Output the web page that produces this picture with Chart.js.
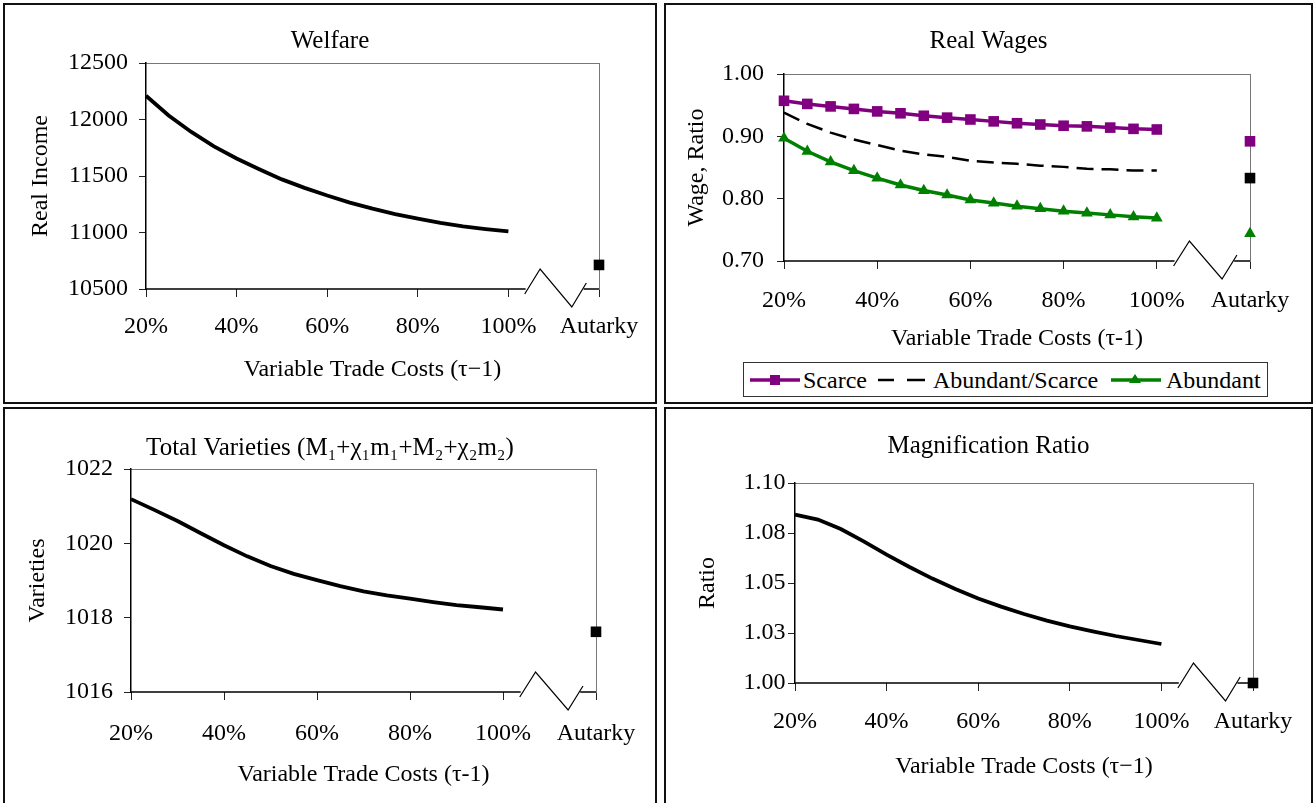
<!DOCTYPE html>
<html>
<head>
<meta charset="utf-8">
<script src="https://cdn.jsdelivr.net/npm/chart.js@4.4.1/dist/chart.umd.min.js"></script>
<style>
body{margin:0;background:#fff;width:1315px;height:803px;overflow:hidden;position:relative;font-family:"Liberation Serif","Times New Roman",serif;}
.panel{position:absolute;border:2px solid #111;box-sizing:border-box;overflow:hidden;}
.panel canvas{position:absolute;left:0;top:0;}
#legend{position:absolute;left:743px;top:362px;width:525px;height:35px;border:1px solid #333;box-sizing:border-box;background:#fff;font-size:24px;color:#000;}
#legend span,#legend svg{position:absolute;}
#legend span{top:0;line-height:34px;white-space:nowrap;}
#legend svg{top:7px;}
</style>
</head>
<body>
<div class="panel" style="left:3px;top:3px;width:654px;height:401px"><canvas id="cWelfare" width="650" height="397"></canvas></div>
<div class="panel" style="left:664px;top:3px;width:649px;height:401px"><canvas id="cWages" width="645" height="397"></canvas></div>
<div class="panel" style="left:3px;top:407px;width:654px;height:400px"><canvas id="cVarieties" width="650" height="396"></canvas></div>
<div class="panel" style="left:664px;top:407px;width:649px;height:400px"><canvas id="cMagnif" width="645" height="396"></canvas></div>
<div id="legend">
  <svg style="left:6px" width="50" height="20"><line x1="0" y1="10" x2="50" y2="10" stroke="#800080" stroke-width="3.5"/><rect x="20" y="5" width="10" height="10" fill="#800080"/></svg>
  <span style="left:59px">Scarce</span>
  <svg style="left:134px" width="47" height="20"><line x1="0" y1="10" x2="16" y2="10" stroke="#000" stroke-width="2.5"/><line x1="29" y1="10" x2="47" y2="10" stroke="#000" stroke-width="2.5"/></svg>
  <span style="left:189px">Abundant/Scarce</span>
  <svg style="left:367px" width="50" height="20"><line x1="0" y1="10" x2="50" y2="10" stroke="#008000" stroke-width="3.5"/><polygon points="24,4 30,13 18,13" fill="#008000"/></svg>
  <span style="left:422px">Abundant</span>
</div>
<script>
// trade cost levels (tau-1, in %) and the autarky slot after the axis break
const costs = [20, 25, 30, 35, 40, 45, 50, 55, 60, 65, 70, 75, 80, 85, 90, 95, 100];
const autarkyX = 120;
const xTickValues = [20, 40, 60, 80, 100, 120];
const xTickLabels = ['20%', '40%', '60%', '80%', '100%', 'Autarky'];

const welfare = [12210, 12035, 11890, 11762, 11655, 11560, 11470, 11395, 11327, 11265, 11211, 11163, 11122, 11085, 11054, 11030, 11010];
const welfareAutarky = 10713;
const welfareTicks = [10500, 11000, 11500, 12000, 12500];

const scarce = [0.957, 0.952, 0.948, 0.944, 0.940, 0.937, 0.933, 0.930, 0.927, 0.924, 0.921, 0.919, 0.917, 0.916, 0.914, 0.912, 0.911];
const scarceAutarky = 0.892;
const wageRatio = [0.938, 0.920, 0.906, 0.895, 0.886, 0.877, 0.871, 0.867, 0.861, 0.858, 0.856, 0.853, 0.851, 0.848, 0.847, 0.845, 0.845];
const wageRatioAutarky = 0.833;
const abundant = [0.897, 0.876, 0.859, 0.845, 0.833, 0.822, 0.813, 0.806, 0.798, 0.793, 0.788, 0.784, 0.780, 0.777, 0.774, 0.771, 0.769];
const abundantAutarky = 0.744;
const wageTicks = [0.70, 0.80, 0.90, 1.00];

const varieties = [1021.19, 1020.90, 1020.60, 1020.27, 1019.95, 1019.65, 1019.39, 1019.18, 1019.01, 1018.85, 1018.71, 1018.60, 1018.51, 1018.42, 1018.34, 1018.28, 1018.22];
const varietiesAutarky = 1017.62;
const varietyTicks = [1016, 1018, 1020, 1022];

const magnification = [1.0842, 1.0817, 1.0770, 1.0708, 1.0642, 1.0580, 1.0522, 1.0470, 1.0422, 1.0382, 1.0345, 1.0312, 1.0283, 1.0258, 1.0235, 1.0215, 1.0195];
const magnificationAutarky = 1.00;
const magTicks = [1.000, 1.025, 1.050, 1.075, 1.100];
const magTickLabels = ['1.00', '1.03', '1.05', '1.08', '1.10'];

Chart.defaults.font.family = '"Liberation Serif", "Times New Roman", serif';
Chart.defaults.color = '#000';
const font = {size: 24, weight: 'normal'};
const titleFont = {size: 25, weight: 'normal'};

function pts(vals, aut) {
  return costs.map((x, i) => ({x: x, y: vals[i]})).concat([{x: autarkyX, y: aut}]);
}

// bottom axis drawn in two pieces with the zigzag break before "Autarky"
const axisBreak = {
  id: 'axisBreak',
  beforeDatasetsDraw(chart) {
    const {ctx, chartArea: a, scales: {x}} = chart;
    const y0 = a.bottom;
    ctx.save();
    ctx.strokeStyle = '#000';
    ctx.lineWidth = 1.5;
    ctx.beginPath();
    ctx.moveTo(a.left, y0);
    ctx.lineTo(x.getPixelForValue(103.8), y0);
    ctx.moveTo(x.getPixelForValue(116.6), y0);
    ctx.lineTo(a.right, y0);
    ctx.stroke();
    ctx.lineWidth = 1.2;
    ctx.beginPath();
    [[103.6, 5], [107, -20], [114, 18], [117.2, -6]].forEach(([v, dy], i) => {
      const px = x.getPixelForValue(v);
      if (i) ctx.lineTo(px, y0 + dy); else ctx.moveTo(px, y0 + dy);
    });
    ctx.stroke();
    ctx.restore();
  }
};

function line(data, color, width, extra) {
  return Object.assign({
    data: data, borderColor: color, borderWidth: width, tension: 0, clip: false,
    pointStyle: 'rect', pointRadius: 0, pointBackgroundColor: color, pointBorderWidth: 0,
    segment: {borderColor: c => c.p1.parsed.x > 100 ? 'rgba(0,0,0,0)' : undefined}
  }, extra || {});
}
const autOnly = r => c => (c.raw && c.raw.x === autarkyX) ? r : 0;

function makeChart(id, g, datasets, yTicks, yLabel, texts) {
  return new Chart(document.getElementById(id), {
    type: 'line',
    data: {datasets: datasets},
    options: {
      responsive: false, animation: false,
      layout: {padding: 0},
      plugins: {
        legend: {display: false}, tooltip: {enabled: false},
        title: {display: true, text: texts.title, font: titleFont, color: '#000', padding: {top: g.titleTop, bottom: g.titleBottom}}
      },
      scales: {
        x: {
          type: 'linear', min: 20, max: 120,
          afterFit: s => { s.height = g.xH; },
          afterBuildTicks: s => { s.ticks = xTickValues.map(v => ({value: v})); },
          ticks: {font: font, color: '#000', padding: g.xPad, maxRotation: 0, autoSkip: false, callback: (v, i) => xTickLabels[i]},
          grid: {display: true, drawOnChartArea: false, tickLength: 8, color: '#222', lineWidth: 1},
          border: {display: false},
          title: {display: true, text: texts.x, font: font, color: '#000', padding: {top: 0, bottom: g.xTitleBottom}}
        },
        x2: {
          type: 'linear', position: 'top',
          afterFit: s => { s.height = 0; },
          ticks: {display: false}, grid: {display: false},
          border: {display: true, color: '#777', width: 1}
        },
        y: {
          type: 'linear', min: yTicks[0], max: yTicks[yTicks.length - 1],
          afterFit: s => { s.width = g.yW; },
          afterBuildTicks: s => { s.ticks = yTicks.map(v => ({value: v})); },
          ticks: {font: font, color: '#000', padding: g.yPad, callback: (v, i) => yLabel(yTicks[i], i)},
          grid: {display: true, drawOnChartArea: false, tickLength: 7, color: '#222', lineWidth: 1},
          border: {display: true, color: '#000', width: 1.5},
          title: {display: true, text: texts.y, font: font, color: '#000', padding: {top: g.yTitleTop, bottom: 0}}
        },
        y2: {
          type: 'linear', position: 'right',
          afterFit: s => { s.width = g.y2W; },
          ticks: {display: false}, grid: {display: false},
          border: {display: true, color: '#777', width: 1}
        }
      }
    },
    plugins: [axisBreak]
  });
}

makeChart('cWelfare',
  {titleTop: 21, titleBottom: 7, xH: 113, xPad: 15.6, xTitleBottom: 17.6, yW: 141, yPad: 11, yTitleTop: 21.6, y2W: 56},
  [line(pts(welfare, welfareAutarky), '#000', 3.8, {pointRadius: autOnly(7.5)})],
  welfareTicks, v => String(v),
  {title: 'Welfare', x: 'Variable Trade Costs (τ−1)', y: 'Real Income'});

makeChart('cWages',
  {titleTop: 21, titleBottom: 18, xH: 141, xPad: 17.6, xTitleBottom: 48.6, yW: 118, yPad: 13, yTitleTop: 16.6, y2W: 61},
  [
    line(pts(scarce, scarceAutarky), '#800080', 3.5, {pointRadius: 7.5}),
    line(pts(wageRatio, wageRatioAutarky), '#000', 2.5, {borderDash: [17, 8], pointRadius: autOnly(7.5)}),
    line(pts(abundant, abundantAutarky), '#008000', 3.5, {pointStyle: 'triangle', pointRadius: 6.8})
  ],
  wageTicks, v => v.toFixed(2),
  {title: 'Real Wages', x: 'Variable Trade Costs (τ-1)', y: 'Wage, Ratio'});

makeChart('cVarieties',
  {titleTop: 24, titleBottom: 6, xH: 113, xPad: 19.6, xTitleBottom: 15.6, yW: 126, yPad: 11, yTitleTop: 18.6, y2W: 59},
  [line(pts(varieties, varietiesAutarky), '#000', 3.8, {pointRadius: autOnly(7.5)})],
  varietyTicks, v => String(v),
  {title: 'Total Varieties (M₁+χ₁m₁+M₂+χ₂m₂)', x: 'Variable Trade Costs (τ-1)', y: 'Varieties'});

makeChart('cMagnif',
  {titleTop: 22, titleBottom: 22, xH: 122, xPad: 16.6, xTitleBottom: 23.6, yW: 129, yPad: 2.5, yTitleTop: 27.6, y2W: 58},
  [line(pts(magnification, magnificationAutarky), '#000', 3.8, {pointRadius: autOnly(7.5)})],
  magTicks, (v, i) => magTickLabels[i],
  {title: 'Magnification Ratio', x: 'Variable Trade Costs (τ−1)', y: 'Ratio'});
</script>
</body>
</html>
